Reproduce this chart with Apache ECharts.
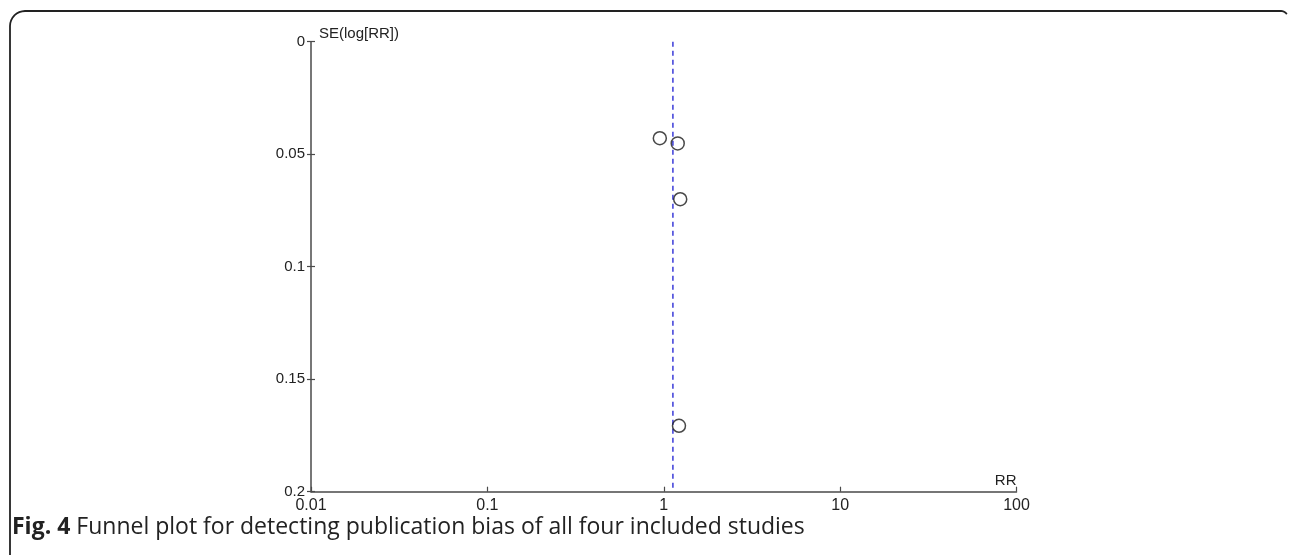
<!DOCTYPE html>
<html>
<head>
<meta charset="utf-8">
<script src="https://cdn.jsdelivr.net/npm/echarts@6/dist/echarts.min.js"></script>
<style>
html,body{margin:0;padding:0;background:#fff;}
#chart{width:1292px;height:555px;}
</style>
</head>
<body>
<div id="chart"></div>
<script>
// Study estimates: RR and SE(log[RR])
const studyRR = [0.95, 1.20, 1.24, 1.22];
const studySE = [0.0429, 0.0452, 0.0700, 0.1707];
const pooledRR = 1.127;
const xTicks = [0.01, 0.1, 1, 10, 100];
const yTicks = [0, 0.05, 0.1, 0.15, 0.2];
const captionBold = 'Fig. 4';
const captionText = ' Funnel plot for detecting publication bias of all four included studies';

const points = studyRR.map((r, i) => [r, studySE[i]]);
const pooledLine = [[pooledRR, yTicks[0]], [pooledRR, yTicks[yTicks.length - 1]]];

// frame decoration (rounded top corners)
function framePoints() {
  const pts = [[10, 560], [10, 26]];
  const r = 15, cx = 25, cy = 26;
  for (let i = 1; i <= 8; i++) {
    const a = Math.PI + (Math.PI / 2) * (i / 8);
    pts.push([cx + r * Math.cos(a), cy + r * Math.sin(a)]);
  }
  pts.push([1281, 11]);
  const r2 = 7, cx2 = 1281, cy2 = 18;
  for (let i = 1; i <= 5; i++) {
    const a = -Math.PI / 2 + (Math.PI / 2) * (i / 8);
    pts.push([cx2 + r2 * Math.cos(a), cy2 + r2 * Math.sin(a)]);
  }
  return pts;
}

const chart = echarts.init(document.getElementById('chart'));
const axisColor = '#4a4a4a';
chart.setOption({
  animation: false,
  backgroundColor: '#fff',
  grid: { left: 311, right: 275.5, top: 41.7, bottom: 63.3 },
  xAxis: {
    type: 'log', logBase: 10, min: xTicks[0], max: xTicks[xTicks.length - 1],
    position: 'bottom',
    name: 'RR', nameLocation: 'end', nameGap: 0,
    nameTextStyle: { align: 'right', verticalAlign: 'bottom', padding: [0, 0, 3, 0], fontFamily: 'Liberation Sans', fontSize: 15, color: '#222' },
    axisLine: { onZero: false, lineStyle: { color: axisColor, width: 1.5 } },
    axisTick: { inside: true, length: 5, lineStyle: { color: axisColor, width: 1.2 } },
    splitLine: { show: false },
    axisLabel: { margin: 6, color: '#222', fontSize: 16, fontFamily: 'Liberation Sans Narrow, Liberation Sans',
      formatter: v => { const t = xTicks.find(x => Math.abs(Math.log10(x) - Math.log10(v)) < 1e-6); return t !== undefined ? String(t) : ''; } }
  },
  yAxis: [{
    type: 'value', inverse: true, min: yTicks[0], max: yTicks[yTicks.length - 1], interval: 0.05,
    name: 'SE(log[RR])', nameLocation: 'start', nameGap: 0,
    nameTextStyle: { align: 'left', verticalAlign: 'bottom', padding: [0, 0, 0, 8], fontFamily: 'Liberation Sans', fontSize: 15, color: '#222' },
    axisLine: { show: true, onZero: false, lineStyle: { color: axisColor, width: 1.5 } },
    axisTick: { show: true, length: 4, lineStyle: { color: axisColor, width: 1.2 } },
    splitLine: { show: false },
    axisLabel: { margin: 6, color: '#222', fontSize: 15, fontFamily: 'Liberation Sans',
      formatter: v => String(Math.round(v * 100) / 100) }
  }, {
    type: 'value', inverse: true, min: yTicks[0], max: yTicks[yTicks.length - 1], interval: 0.05,
    position: 'left',
    axisLine: { show: false, onZero: false },
    axisTick: { show: true, inside: true, length: 4, lineStyle: { color: axisColor, width: 1.2 } },
    axisLabel: { show: false },
    splitLine: { show: false }
  }],
  series: [{
    type: 'line',
    data: pooledLine,
    symbol: 'none',
    lineStyle: { color: '#3a3ad8', width: 1.5, type: [5, 4] },
    z: 1
  }, {
    type: 'scatter',
    data: points,
    symbol: 'circle',
    symbolSize: 13,
    itemStyle: { color: 'rgba(255,255,255,0)', borderColor: '#1a1a1a', borderWidth: 1.5 },
    z: 3
  }],
  graphic: [{
    type: 'polyline',
    shape: { points: framePoints() },
    style: { fill: null, stroke: '#222', lineWidth: 1.8 }
  }, {
    type: 'text',
    left: 12, top: 516,
    style: {
      text: '{b|' + captionBold + '}{r|' + captionText + '}',
      rich: {
        b: { fontFamily: 'Open Sans', fontWeight: 'bold', fontSize: 23, fill: '#222' },
        r: { fontFamily: 'Open Sans', fontSize: 23, fill: '#222' }
      }
    }
  }]
});
</script>
</body>
</html>
